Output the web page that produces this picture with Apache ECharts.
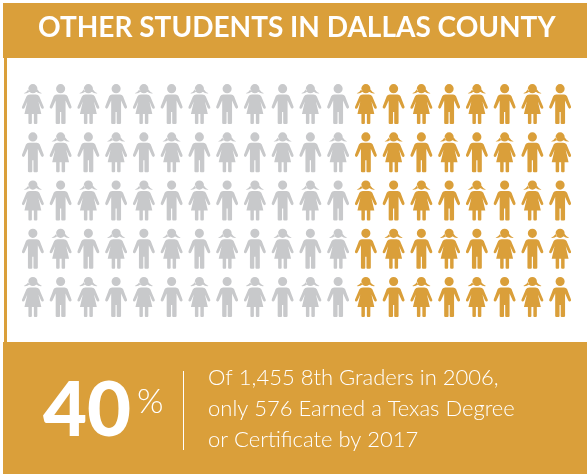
<!DOCTYPE html>
<html>
<head>
<meta charset="utf-8">
<style>
html, body { margin: 0; padding: 0; background: #fff; }
#main { width: 587px; height: 474px; }
</style>
<script src="https://cdn.jsdelivr.net/npm/echarts@6/dist/echarts.min.js"></script>
</head>
<body>
<div id="main"></div>
<script>
// data
var rows = ['r1', 'r2', 'r3', 'r4', 'r5'];
var columns = ['c1', 'c2', 'c3', 'c4', 'c5', 'c6', 'c7', 'c8', 'c9', 'c10', 'c11', 'c12', 'c13', 'c14', 'c15', 'c16', 'c17', 'c18', 'c19', 'c20'];
var greyColumns = columns.slice(0, 12);
var goldColumns = columns.slice(12);
var titleText = 'OTHER STUDENTS IN DALLAS COUNTY';
var percentText = '40';
var noteLines = ['Of 1,455 8th Graders in 2006,', 'only 576 Earned a Texas Degree', 'or Certificate by 2017'];

var GOLD = '#da9f3a';
var GREY = '#c8c9cb';

var boy = 'path://M11 0a4.6 4.6 0 1 1-.01 0zM7 10.500h8q2 0 3 1.700l4 10.300q.5 1.500-1 2-1 .5-1.800-1L16 16.500V39q0 1-1.200 1h-2.200q-1 0-1-1V28h-1.200v11q0 1-1 1H7.200Q6 40 6 39V16.500L2.800 23.500q-.8 1.500-1.800 1-1.500-.5-1-2l4-10.300q1-1.700 3-1.700z';
var girl = 'path://M11 0a4.600 4.600 0 1 1-.01 0z'
    + 'M6.800 4.800Q5 7.800 1.800 9.200 5 9.700 7.600 7.600z'
    + 'M15.200 4.800Q17 7.800 20.200 9.200 17 9.700 14.400 7.600z'
    + 'M8 10.500H14Q16.500 10.500 17.500 12.300L22 22.800Q22.400 24.200 21 24.600 20 24.900 19.300 23.600L16.600 17.500 19.500 30H15.500V39Q15.500 40 14.500 40H13Q12 40 12 39V30H10V39Q10 40 9 40H7.500Q6.500 40 6.500 39V30H2.500L5.400 17.500 2.700 23.600Q2 24.900 1 24.600-.4 24.200 0 22.800L4.500 12.300Q5.500 10.500 8 10.500z';

function buildCells(cols, offset) {
    var cells = [];
    for (var r = 0; r < rows.length; r++) {
        for (var c = 0; c < cols.length; c++) {
            cells.push({
                value : [cols[c], rows[r]],
                symbol : (r + c + offset) % 2 == 0 ? girl : boy
            });
        }
    }
    return cells;
}

var chart = echarts.init(document.getElementById('main'));

var option = {
    animation : false,
    backgroundColor : '#fff',
    grid : { left : 19, right : 13, top : 80, height : 241 },
    xAxis : { type : 'category', data : columns, show : false },
    yAxis : { type : 'category', data : rows, inverse : true, show : false },
    series : [{
        type : 'scatter',
        symbolSize : [22, 40],
        itemStyle : { color : GREY, opacity : 1 },
        data : buildCells(greyColumns, 0)
    }, {
        type : 'scatter',
        symbolSize : [22, 40],
        itemStyle : { color : GOLD, opacity : 1 },
        data : buildCells(goldColumns, greyColumns.length)
    }],
    graphic : [
        { type : 'rect', left : 3, top : 3, shape : { width : 584, height : 55 }, style : { fill : GOLD } },
        { type : 'rect', left : 4, top : 58, shape : { width : 3, height : 284 }, style : { fill : GOLD } },
        { type : 'rect', left : 3, top : 342, shape : { width : 584, height : 132 }, style : { fill : GOLD } },
        { type : 'text', left : 38, top : 14, style : { text : titleText, fill : '#fff', font : '700 28px Lato' } },
        { type : 'text', left : 43, top : 373, style : { text : percentText, fill : '#fff', font : '900 76px Lato' } },
        { type : 'text', left : 137, top : 385, style : { text : '%', fill : '#fff', font : '300 34px Lato' } },
        { type : 'rect', left : 183, top : 371, shape : { width : 1, height : 79 }, style : { fill : '#fff' } },
        { type : 'text', left : 208, top : 367, style : { text : noteLines[0], fill : '#fff', font : '300 22px Lato' } },
        { type : 'text', left : 208, top : 398, style : { text : noteLines[1], fill : '#fff', font : '300 22px Lato' } },
        { type : 'text', left : 208, top : 429, style : { text : noteLines[2], fill : '#fff', font : '300 22px Lato' } }
    ]
};
chart.setOption(option);

window.addEventListener('resize', function() {
    chart.resize()
})
</script>
</body>
</html>
